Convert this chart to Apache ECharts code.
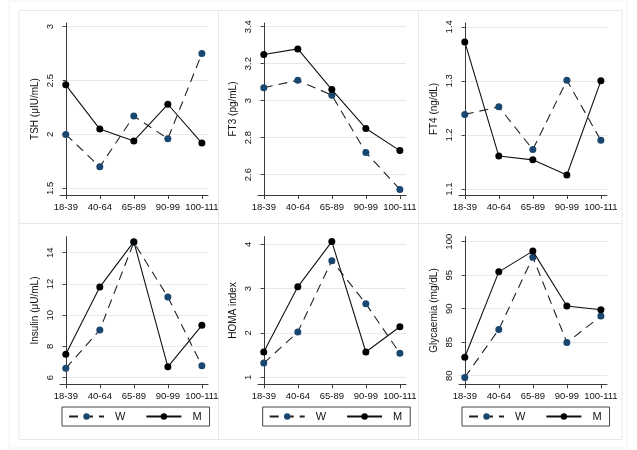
<!DOCTYPE html>
<html>
<head>
<meta charset="utf-8">
<script src="https://cdn.jsdelivr.net/npm/echarts@6/dist/echarts.min.js"></script>
<style>
html,body{margin:0;padding:0;background:#fff;}
#chart{width:637px;height:450px;}
</style>
</head>
<body>
<div id="chart"></div>
<script>
// ---- data ----
const categories = ['18-39', '40-64', '65-89', '90-99', '100-111'];
const seriesNames = ['W', 'M'];

const tshW = [2.00, 1.70, 2.17, 1.96, 2.75];
const tshM = [2.46, 2.05, 1.94, 2.28, 1.92];
const ft3W = [3.07, 3.11, 3.03, 2.72, 2.52];
const ft3M = [3.25, 3.28, 3.06, 2.85, 2.73];
const ft4W = [1.238, 1.252, 1.173, 1.301, 1.190];
const ft4M = [1.372, 1.161, 1.154, 1.126, 1.300];
const insW = [6.60, 9.05, 14.66, 11.16, 6.77];
const insM = [7.50, 11.80, 14.70, 6.70, 9.35];
const homaW = [1.32, 2.02, 3.63, 2.66, 1.54];
const homaM = [1.57, 3.04, 4.06, 1.57, 2.14];
const glyW = [79.75, 86.90, 97.70, 84.95, 88.90];
const glyM = [82.75, 95.50, 98.60, 90.40, 89.85];

const tshTicks = [1.5, 2, 2.5, 3];
const ft3Ticks = [2.6, 2.8, 3, 3.2, 3.4];
const ft4Ticks = [1.1, 1.2, 1.3, 1.4];
const insTicks = [6, 8, 10, 12, 14];
const homaTicks = [1, 2, 3, 4];
const glyTicks = [80, 85, 90, 95, 100];

const yTitles = ['TSH (\u03bcIU/mL)', 'FT3 (pg/mL)', 'FT4 (ng/dL)', 'Insulin (\u03bcU/mL)', 'HOMA index', 'Glycaemia (mg/dL)'];

// ---- layout / style ----
const FONT = 'Liberation Sans, Arial, Helvetica, sans-serif';
const W_COLOR = '#1a476f';
const M_COLOR = '#000000';
const AXIS_COLOR = '#3a3a3a';

const panels = [
  {w: tshW, m: tshM, ticks: tshTicks, min: 1.438, max: 3.034, left: 60, top: 23, height: 172},
  {w: ft3W, m: ft3M, ticks: ft3Ticks, min: 2.49, max: 3.42, left: 258, top: 23, height: 172},
  {w: ft4W, m: ft4M, ticks: ft4Ticks, min: 1.089, max: 1.407, left: 459, top: 23, height: 172},
  {w: insW, m: insM, ticks: insTicks, min: 5.58, max: 15.02, left: 60, top: 236.7, height: 147.6},
  {w: homaW, m: homaM, ticks: homaTicks, min: 0.842, max: 4.17, left: 258, top: 236.7, height: 147.6},
  {w: glyW, m: glyM, ticks: glyTicks, min: 78.72, max: 100.75, left: 459, top: 236.7, height: 147.6}
];

const grids = [], xAxes = [], yAxes = [], series = [];
const catIdx = categories.map((c, i) => i);

panels.forEach((p, k) => {
  grids.push({left: p.left, top: p.top, width: 148, height: p.height, containLabel: false});
  xAxes.push({
    type: 'value', gridIndex: k, min: -0.17, max: 4.18,
    axisLine: {show: true, lineStyle: {color: AXIS_COLOR, width: 1}},
    axisTick: {show: true, length: 4, lineStyle: {color: AXIS_COLOR}, customValues: catIdx},
    axisLabel: {customValues: catIdx, formatter: v => categories[Math.round(v)], fontSize: 9.5, color: '#111', fontFamily: FONT, margin: 7},
    splitLine: {show: false}
  });
  yAxes.push({
    type: 'value', gridIndex: k, min: p.min, max: p.max,
    name: yTitles[k], nameLocation: 'middle', nameGap: 20, nameRotate: 90,
    nameTextStyle: {fontSize: 10, color: '#111', fontFamily: FONT},
    axisLine: {show: true, lineStyle: {color: AXIS_COLOR, width: 1}},
    axisTick: {show: true, length: 3, lineStyle: {color: AXIS_COLOR}, customValues: p.ticks},
    axisLabel: {customValues: p.ticks, rotate: 90, fontSize: 9.5, color: '#111', fontFamily: FONT, margin: 5},
    splitLine: {show: true, lineStyle: {color: '#e8e8e8', width: 1}}
  });
  series.push({
    name: 'W', type: 'line', xAxisIndex: k, yAxisIndex: k,
    data: p.w.map((v, i) => [i, v]),
    symbol: 'circle', symbolSize: 7, showSymbol: true,
    itemStyle: {color: W_COLOR},
    lineStyle: {color: '#222', width: 1.1, type: [9, 6]},
    z: 3, animation: false
  });
  series.push({
    name: 'M', type: 'line', xAxisIndex: k, yAxisIndex: k,
    data: p.m.map((v, i) => [i, v]),
    symbol: 'circle', symbolSize: 7, showSymbol: true,
    itemStyle: {color: M_COLOR},
    lineStyle: {color: '#111', width: 1.1, type: 'solid'},
    z: 4, animation: false
  });
});

const legendLefts = [62, 262.7, 462];
const legends = legendLefts.map(l => ({
  data: seriesNames, left: l, top: 407, orient: 'horizontal',
  padding: [4, 8, 4, 6], itemGap: 20, itemWidth: 35, itemHeight: 8,
  borderColor: '#444', borderWidth: 1, borderRadius: 0,
  textStyle: {fontSize: 11, color: '#111', fontFamily: FONT, padding: [0, 0, 0, 6]},
  selectedMode: false
}));

// panel frames (decoration)
const frameColor = '#e2e8ed';
const graphic = [
  {type: 'rect', shape: {x: 9, y: 1, width: 618, height: 447}, style: {fill: 'none', stroke: '#eef2f5', lineWidth: 1}, silent: true},
  {type: 'rect', shape: {x: 19, y: 10.5, width: 603, height: 429}, style: {fill: 'none', stroke: frameColor, lineWidth: 1}, silent: true},
  {type: 'line', shape: {x1: 218.5, y1: 10.5, x2: 218.5, y2: 439.5}, style: {stroke: frameColor, lineWidth: 1}, silent: true},
  {type: 'line', shape: {x1: 418.5, y1: 10.5, x2: 418.5, y2: 439.5}, style: {stroke: frameColor, lineWidth: 1}, silent: true},
  {type: 'line', shape: {x1: 19, y1: 223.5, x2: 622, y2: 223.5}, style: {stroke: frameColor, lineWidth: 1}, silent: true}
];

const chart = echarts.init(document.getElementById('chart'), null, {renderer: 'canvas'});
chart.setOption({
  backgroundColor: '#ffffff',
  animation: false,
  textStyle: {fontFamily: FONT},
  grid: grids, xAxis: xAxes, yAxis: yAxes, series: series,
  legend: legends, graphic: graphic
});
</script>
</body>
</html>
